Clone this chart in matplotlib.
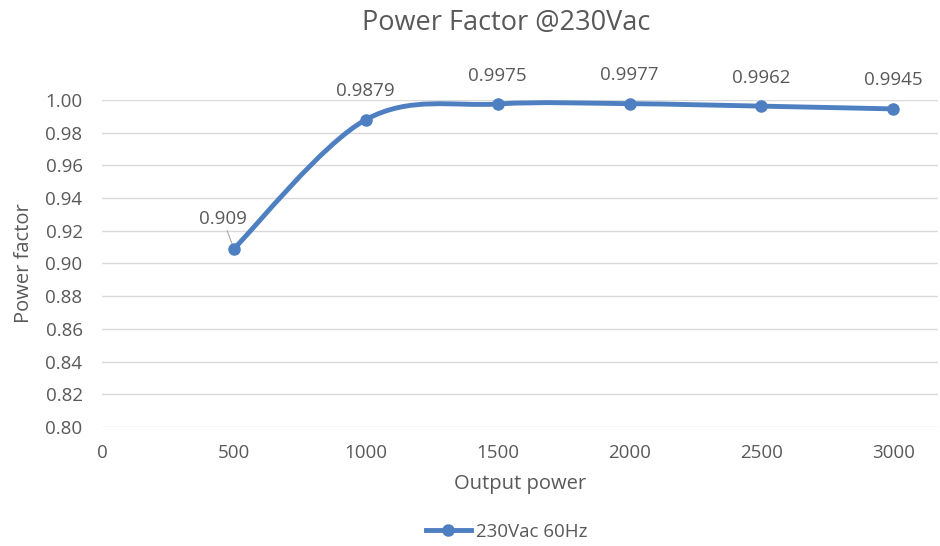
import matplotlib.pyplot as plt
from matplotlib.path import Path
from matplotlib.patches import PathPatch
from matplotlib.lines import Line2D

plt.rcParams['font.family'] = ['Open Sans', 'DejaVu Sans']

power = [500, 1000, 1500, 2000, 2500, 3000]
pf = [0.909, 0.9879, 0.9975, 0.9977, 0.9962, 0.9945]
labels = ['0.909', '0.9879', '0.9975', '0.9977', '0.9962', '0.9945']
series_name = '230Vac 60Hz'

LINE = '#4d7fc1'
TEXT = '#595959'
GRID = '#d9d9d9'


def smooth_path(xs, ys):
    # excel style smoothed line: bezier segments with catmull-rom tangents
    pts = list(zip(xs, ys))
    verts = [pts[0]]
    codes = [Path.MOVETO]
    n = len(pts)
    for i in range(n - 1):
        p0 = pts[i - 1] if i > 0 else pts[i]
        p1 = pts[i]
        p2 = pts[i + 1]
        p3 = pts[i + 2] if i + 2 < n else pts[i + 1]
        c1 = (p1[0] + (p2[0] - p0[0]) / 6, p1[1] + (p2[1] - p0[1]) / 6)
        c2 = (p2[0] - (p3[0] - p1[0]) / 6, p2[1] - (p3[1] - p1[1]) / 6)
        verts += [c1, c2, p2]
        codes += [Path.CURVE4] * 3
    return Path(verts, codes)


fig = plt.figure(figsize=(9.4, 5.46), dpi=100)
ax = fig.add_axes([0.1085, 0.218, 0.8895, 0.599])

ax.add_patch(PathPatch(smooth_path(power, pf), transform=ax.transData,
                       fill=False, edgecolor=LINE, lw=3.5,
                       capstyle='round', joinstyle='round', clip_on=False, zorder=3))
ax.plot(power, pf, 'o', color=LINE, markersize=8, zorder=4, clip_on=False)

for i, (x, y, t) in enumerate(zip(power, pf, labels)):
    if i == 0:
        ax.annotate(t, (x, y), xytext=(-8, 15), textcoords='offset points',
                    ha='center', va='bottom', fontsize=13.5, color=TEXT,
                    arrowprops=dict(arrowstyle='-', color='#a6a6a6', lw=0.8,
                                    shrinkA=0, shrinkB=3))
    else:
        ax.annotate(t, (x, y), xytext=(0, 14), textcoords='offset points',
                    ha='center', va='bottom', fontsize=13.5, color=TEXT)

ax.set_xlim(0, 3170)
ax.set_ylim(0.80, 1.00)
ax.set_xticks([0, 500, 1000, 1500, 2000, 2500, 3000])
ax.set_yticks([0.80 + 0.02 * k for k in range(11)])
ax.yaxis.set_major_formatter(plt.FormatStrFormatter('%.2f'))
ax.tick_params(length=0, labelsize=13.5, labelcolor=TEXT)
ax.tick_params(axis='y', pad=14)
ax.tick_params(axis='x', pad=12)
ax.grid(axis='y', color=GRID, lw=1)
ax.set_axisbelow(True)
for s in ax.spines.values():
    s.set_visible(False)

ax.set_xlabel('Output power', fontsize=14.5, color=TEXT, labelpad=9)
ax.set_ylabel('Power factor', fontsize=14.5, color=TEXT, labelpad=8)
fig.text(0.539, 0.958, 'Power Factor @230Vac', ha='center', va='center',
         fontsize=19.5, color=TEXT)

handle = Line2D([], [], color=LINE, lw=3.5, marker='o', markersize=8)
fig.legend([handle], [series_name], loc='center', bbox_to_anchor=(0.539, 0.026),
           frameon=False, fontsize=13.5, labelcolor=TEXT, handlelength=2.4,
           handletextpad=0.3)

fig.savefig('out.png', dpi=100)
